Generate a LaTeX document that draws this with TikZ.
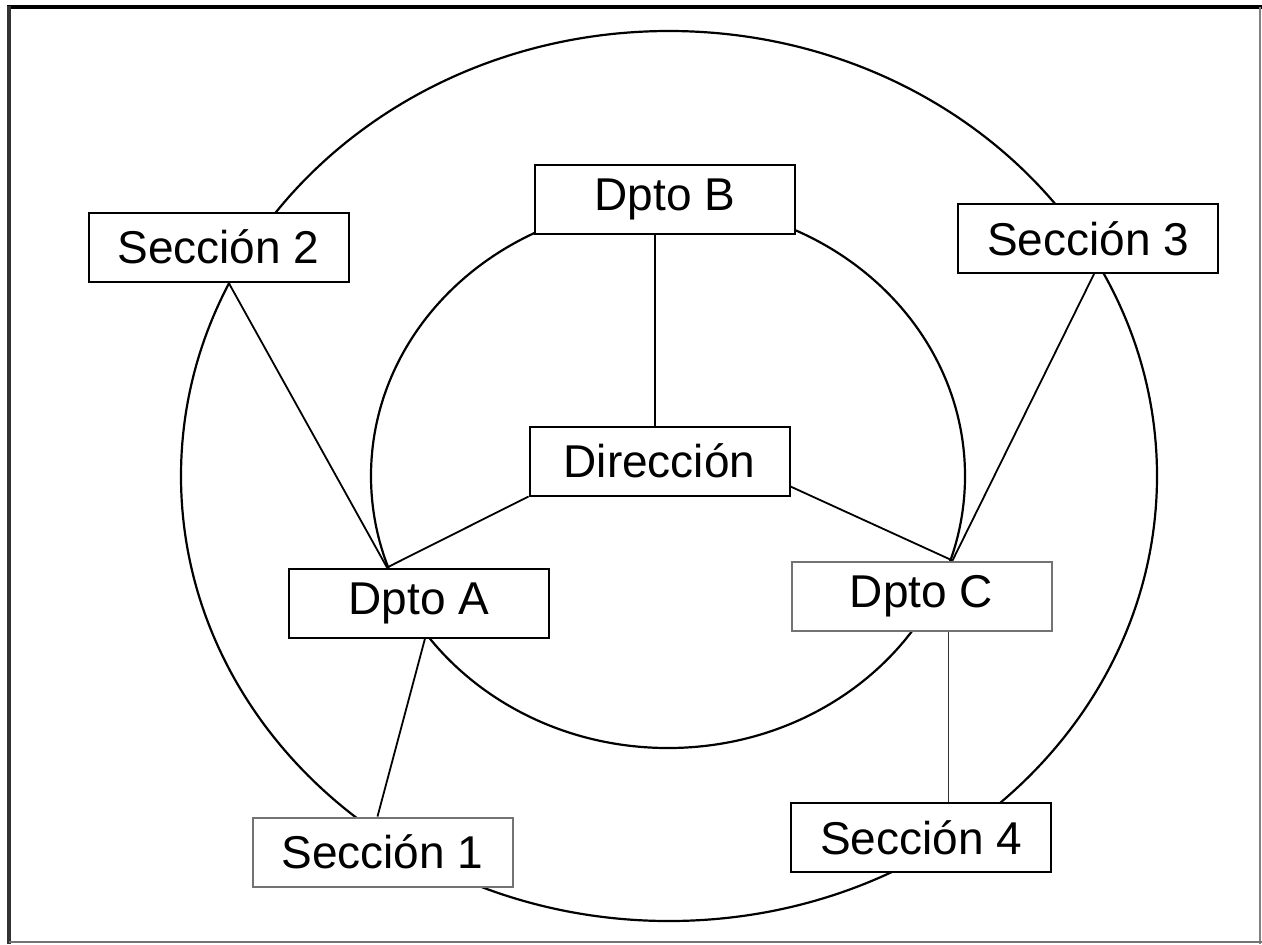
\documentclass[tikz,border=0pt]{standalone}
\usepackage{fontspec}
\setmainfont{Liberation Sans}
\begin{document}
\begin{tikzpicture}[x=0.5pt,y=-0.5pt,
  box/.style={draw, line width=1pt, fill=white, minimum width=130pt, minimum height=34.5pt, inner sep=0pt, font=\fontsize{23}{26}\selectfont},
  lightbox/.style={box, draw=black!55},
  ring/.style={line width=1.1pt},
  link/.style={line width=0.9pt}]
\useasboundingbox (0,0) rectangle (1262,944);
\fill[white] (0,0) rectangle (1262,944);
% frame
\draw[line width=2pt] (7,7) -- (1262,7);
\draw[line width=1.6pt, black!80] (9,6) -- (9,944);
\draw[line width=1pt, black!50] (1260,7) -- (1260,944);
\draw[line width=1pt, black!55] (9,942) -- (1262,942);
% rings
\draw[ring] (669,476) ellipse [x radius=244pt, y radius=222.5pt];
\draw[ring] (668,476) ellipse [x radius=148.5pt, y radius=136pt];
% nodes
\node[box] (s2) at (218.5,247) {Sección 2};
\node[box] (s3) at (1088,238.5) {Sección 3};
\node[box] (dB) at (665,199.5) {Dpto B};
\node[box] (dir) at (659.5,461) {Dirección};
\node[box] (dA) at (419,603) {Dpto A};
\node[lightbox] (dC) at (921.5,596) {Dpto C};
\node[lightbox] (s1) at (382.5,852) {Sección 1};
\node[box] (s4) at (921,837.5) {Sección 4};
% connectors
\draw[link] ([xshift=70.5pt]s2.south west) -- ([xshift=49.5pt]dA.north west);
\draw[link] (dir.south west) -- ([xshift=49.5pt]dA.north west);
\draw[link] ([xshift=68.5pt]dA.south west) -- ([xshift=63pt]s1.north west);
\draw[link] ([xshift=-5pt]dB.south) -- ([xshift=-5pt]dB.south |- dir.north);
\draw[link] ([yshift=5pt]dir.south east) -- ([xshift=81pt]dC.north west);
\draw[link] ([xshift=68.5pt]s3.south west) -- ([xshift=81pt]dC.north west);
\draw[link, black!80] ([xshift=79pt]dC.south west) -- ([xshift=79pt]dC.south west |- s4.north);
\end{tikzpicture}
\end{document}
